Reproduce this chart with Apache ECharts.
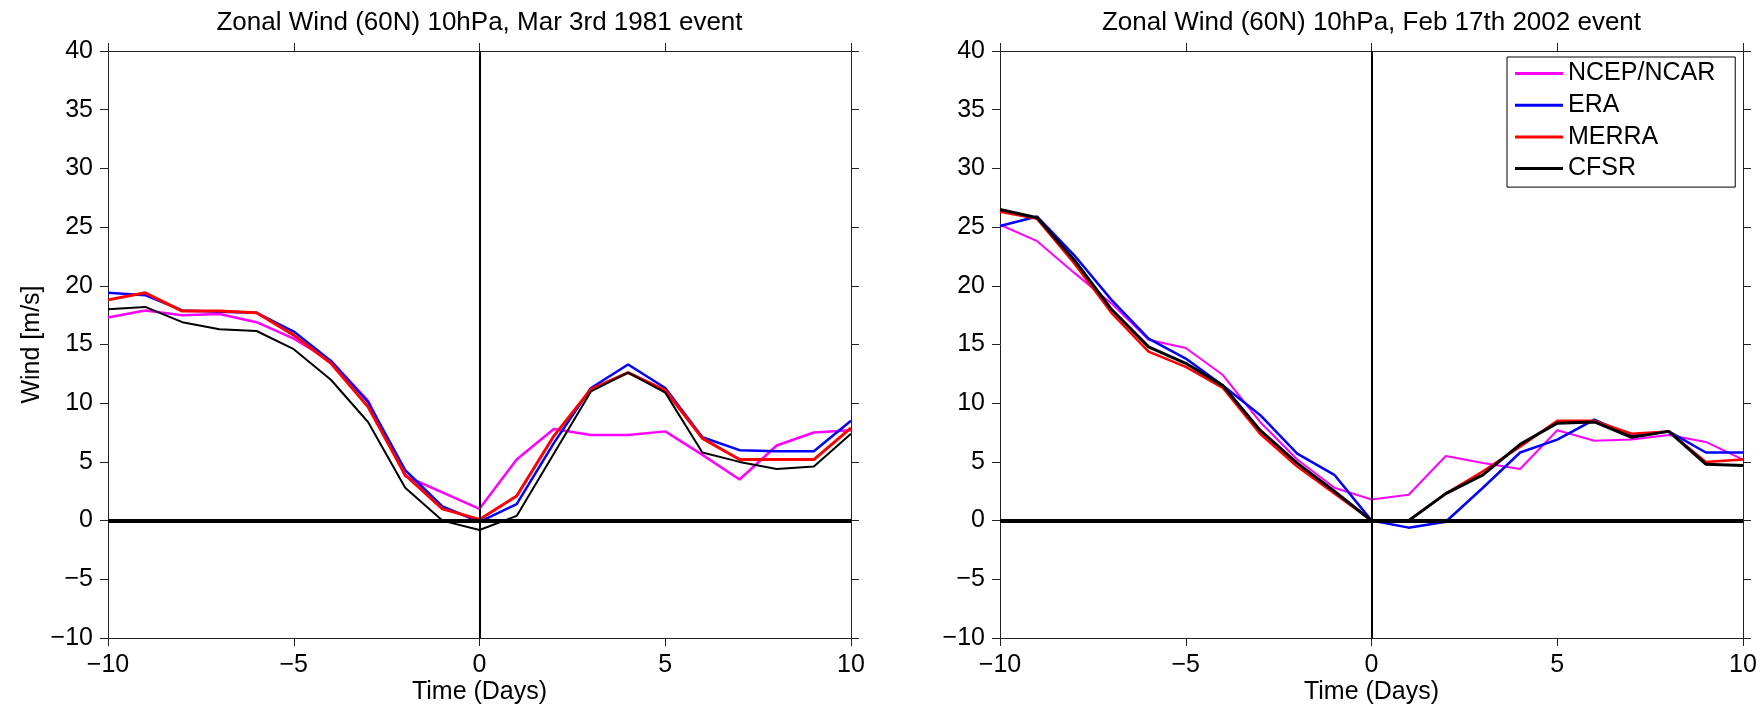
<!DOCTYPE html>
<html>
<head>
<meta charset="utf-8">
<title>Zonal Wind (60N) 10hPa</title>
<script src="https://cdn.jsdelivr.net/npm/echarts/dist/echarts.min.js"></script>
<style>
  html, body { margin: 0; padding: 0; background: #fff; }
  #chart { width: 1763px; height: 715px; }
</style>
</head>
<body>
<div id="chart"></div>
<script>
// days relative to the event
var days = [-10, -9, -8, -7, -6, -5, -4, -3, -2, -1, 0, 1, 2, 3, 4, 5, 6, 7, 8, 9, 10];
var seriesNames = ["NCEP/NCAR", "ERA", "MERRA", "CFSR"];
var seriesColors = ["#ff00ff", "#0000ff", "#ff0000", "#000000"];
var xTicks = [-10, -5, 0, 5, 10];
var yTicks = [-10, -5, 0, 5, 10, 15, 20, 25, 30, 35, 40];
var titles = ["Zonal Wind (60N) 10hPa, Mar 3rd 1981 event", "Zonal Wind (60N) 10hPa, Feb 17th 2002 event"];

// Mar 3rd 1981
var ncep1981 = [17.3, 17.9, 17.5, 17.6, 16.9, 15.5, 13.6, 10.2, 3.8, 2.4, 1.0, 5.2, 7.8, 7.3, 7.3, 7.6, 5.6, 3.5, 6.4, 7.5, 7.7];
var era1981 = [19.4, 19.2, 17.9, 17.8, 17.7, 16.1, 13.6, 10.1, 4.3, 1.2, -0.1, 1.4, 6.6, 11.3, 13.3, 11.3, 7.1, 6.0, 5.9, 5.9, 8.5];
var merra1981 = [18.8, 19.4, 17.85, 17.85, 17.7, 15.8, 13.4, 9.7, 3.9, 1.0, 0.1, 2.1, 7.2, 11.2, 12.6, 11.1, 7.0, 5.2, 5.2, 5.2, 7.9];
var cfsr1981 = [18.0, 18.2, 16.9, 16.3, 16.15, 14.6, 12.0, 8.4, 2.8, 0.0, -0.8, 0.4, 5.7, 11.0, 12.6, 10.9, 5.8, 5.0, 4.4, 4.6, 7.4];

// Feb 17th 2002
var ncep2002 = [25.2, 23.8, 21.1, 18.5, 15.4, 14.7, 12.4, 8.4, 5.2, 2.8, 1.8, 2.2, 5.5, 4.9, 4.4, 7.7, 6.8, 6.9, 7.3, 6.7, 5.2];
var era2002 = [25.1, 25.9, 22.6, 18.8, 15.5, 13.8, 11.5, 9.0, 5.7, 3.9, 0.0, -0.6, -0.1, 2.8, 5.8, 6.9, 8.6, 7.2, 7.6, 5.8, 5.8];
var merra2002 = [26.3, 25.7, 21.9, 17.7, 14.4, 13.1, 11.3, 7.4, 4.6, 2.3, 0.0, 0.0, 2.3, 4.2, 6.3, 8.5, 8.5, 7.4, 7.6, 5.0, 5.2];
var cfsr2002 = [26.5, 25.8, 22.2, 18.0, 14.8, 13.4, 11.5, 7.7, 4.9, 2.5, 0.0, 0.0, 2.3, 3.9, 6.5, 8.3, 8.4, 7.1, 7.6, 4.8, 4.7];

var panels = [
  { data: [ncep1981, era1981, merra1981, cfsr1981], widths: [2.5, 2.5, 3, 2] },
  { data: [ncep2002, era2002, merra2002, cfsr2002], widths: [2, 2.5, 2.5, 3] }
];

var FONT = "Liberation Sans, Arial, Helvetica, sans-serif";
var FS = 25;
var gridLefts = [108, 1000];

function minus(v) {
  return String(v).replace("-", "\u2212");
}

function pairs(ys) {
  return days.map(function (d, i) { return [d, ys[i]]; });
}

var chart = echarts.init(document.getElementById("chart"));

var grids = [], xAxes = [], yAxes = [], series = [], titleList = [];
var axisLine = { show: true, onZero: false, lineStyle: { color: "#222", width: 1 } };
var axisTick = { show: true, inside: false, length: 8, lineStyle: { color: "#222", width: 1 } };

panels.forEach(function (p, g) {
  grids.push({ left: gridLefts[g], top: 51, width: 743, height: 587 });
  titleList.push({
    text: titles[g],
    left: gridLefts[g] + 743 / 2,
    textAlign: "center",
    top: 10,
    padding: 0,
    textStyle: { fontFamily: FONT, fontSize: 26, fontWeight: "normal", color: "#000" }
  });
  var xBase = {
    type: "value", gridIndex: g, min: -10, max: 10, interval: 5,
    axisLine: axisLine, axisTick: axisTick, splitLine: { show: false }
  };
  xAxes.push(Object.assign({}, xBase, {
    position: "bottom",
    name: "Time (Days)", nameLocation: "middle", nameGap: 42, nameMoveOverlap: false,
    nameTextStyle: { fontFamily: FONT, fontSize: FS, color: "#000" },
    axisLabel: { fontFamily: FONT, fontSize: FS, color: "#000", margin: 15, formatter: minus }
  }));
  xAxes.push(Object.assign({}, xBase, { position: "top", axisLabel: { show: false } }));

  var yBase = {
    type: "value", gridIndex: g, min: -10, max: 40, interval: 5,
    axisLine: axisLine, axisTick: axisTick, splitLine: { show: false }
  };
  var yLeft = Object.assign({}, yBase, {
    position: "left",
    axisLabel: { fontFamily: FONT, fontSize: FS, color: "#000", margin: 15, formatter: minus }
  });
  if (g === 0) {
    yLeft.name = "Wind [m/s]";
    yLeft.nameLocation = "middle";
    yLeft.nameGap = 63;
    yLeft.nameMoveOverlap = false;
    yLeft.nameTextStyle = { fontFamily: FONT, fontSize: FS, color: "#000" };
  }
  yAxes.push(yLeft);
  yAxes.push(Object.assign({}, yBase, { position: "right", axisLabel: { show: false } }));

  p.data.forEach(function (ys, k) {
    var s = {
      name: seriesNames[k],
      type: "line",
      xAxisIndex: g * 2,
      yAxisIndex: g * 2,
      data: pairs(ys),
      showSymbol: false,
      symbol: "none",
      color: seriesColors[k],
      lineStyle: { color: seriesColors[k], width: p.widths[k] },
      animation: false
    };
    if (k === seriesNames.length - 1) {
      s.markLine = {
        silent: true,
        symbol: "none",
        animation: false,
        label: { show: false },
        data: [
          { xAxis: 0, lineStyle: { color: "#000", width: 2, type: "solid" } },
          { yAxis: 0, lineStyle: { color: "#000", width: 4, type: "solid" } }
        ]
      };
    }
    series.push(s);
  });
});

var option = {
  backgroundColor: "#fff",
  animation: false,
  title: titleList,
  grid: grids,
  xAxis: xAxes,
  yAxis: yAxes,
  legend: {
    data: seriesNames,
    orient: "vertical",
    left: 1507,
    top: 57,
    padding: [4, 20, 6, 8],
    itemGap: 6.7,
    itemWidth: 48,
    itemHeight: 3,
    icon: "rect",
    borderColor: "#000",
    borderWidth: 1,
    borderRadius: 0,
    textStyle: { fontFamily: FONT, fontSize: FS, color: "#000" }
  },
  series: series
};

chart.setOption(option);
</script>
</body>
</html>
